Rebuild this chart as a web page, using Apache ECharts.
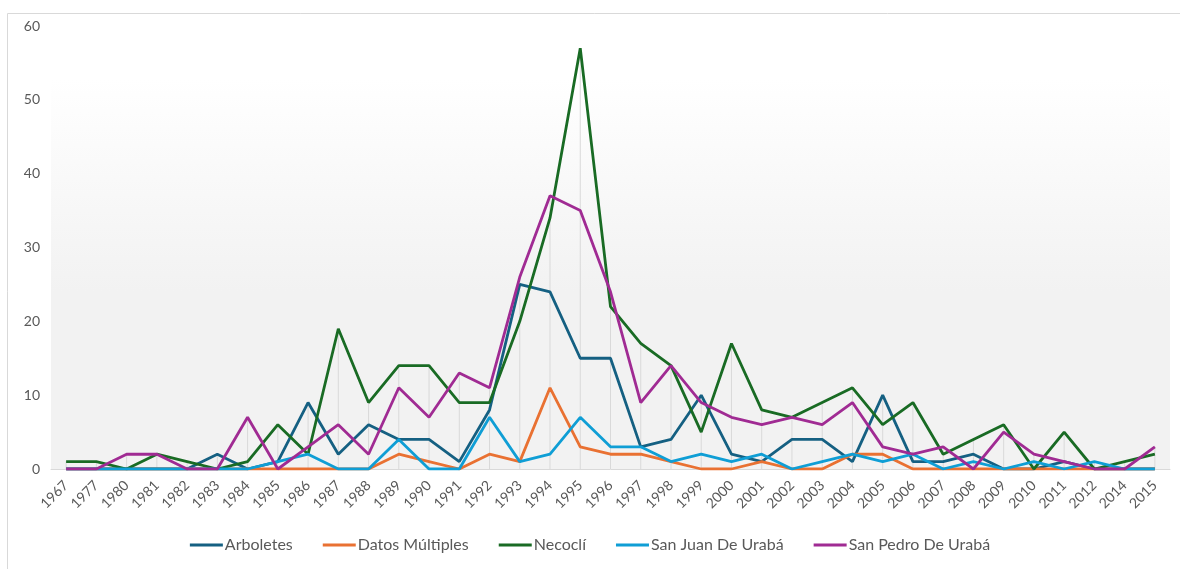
<!DOCTYPE html>
<html>
<head>
<meta charset="utf-8">
<script src="https://cdn.jsdelivr.net/npm/echarts@6/dist/echarts.min.js"></script>
<style>html,body{margin:0;padding:0;background:#fff}#c{width:1180px;height:569px}</style>
</head>
<body>
<div id="c"></div>
<script>
const categories = ['1967','1977','1980','1981','1982','1983','1984','1985','1986','1987','1988','1989','1990','1991','1992','1993','1994','1995','1996','1997','1998','1999','2000','2001','2002','2003','2004','2005','2006','2007','2008','2009','2010','2011','2012','2014','2015'];
const arboletes = [0,0,0,0,0,2,0,1,9,2,6,4,4,1,8,25,24,15,15,3,4,10,2,1,4,4,1,10,1,1,2,0,0,1,0,0,0];
const datosMultiples = [0,0,0,0,0,0,0,0,0,0,0,2,1,0,2,1,11,3,2,2,1,0,0,1,0,0,2,2,0,0,0,0,0,0,0,0,0];
const necocli = [1,1,0,2,1,0,1,6,2,19,9,14,14,9,9,20,34,57,22,17,14,5,17,8,7,9,11,6,9,2,4,6,0,5,0,1,2];
const sanJuan = [0,0,0,0,0,0,0,1,2,0,0,4,0,0,7,1,2,7,3,3,1,2,1,2,0,1,2,1,2,0,1,0,1,0,1,0,0];
const sanPedro = [0,0,2,2,0,0,7,0,3,6,2,11,7,13,11,26,37,35,24,9,14,9,7,6,7,6,9,3,2,3,0,5,2,1,0,0,3];
const seriesNames = ['Arboletes','Datos Múltiples','Necoclí','San Juan De Urabá','San Pedro De Urabá'];
const seriesData = [arboletes, datosMultiples, necocli, sanJuan, sanPedro];
const colors = ['#156082','#E97132','#196B24','#0F9ED5','#A02B93'];

const dropMax = categories.map((_, i) => Math.max(...seriesData.map(s => s[i])));

const chart = echarts.init(document.getElementById('c'));
const lineSeries = seriesNames.map((n, k) => ({
  name: n, type: 'line', data: seriesData[k], showSymbol: false, symbol: 'none',
  lineStyle: { width: 2.8, color: colors[k] }, itemStyle: { color: colors[k] },
  z: 3
}));
chart.setOption({
  animation: false,
  graphic: [{
    type: 'rect', shape: { x: 7.5, y: 13.5, width: 1180, height: 580 },
    style: { fill: 'none', stroke: '#d9d9d9', lineWidth: 1 }, z: -10
  }],
  grid: {
    left: 51, right: 10, top: 26, bottom: 100, show: true, borderWidth: 0,
    backgroundColor: new echarts.graphic.LinearGradient(0, 0, 0, 1, [
      { offset: 0, color: '#ffffff' }, { offset: 0.12, color: '#ffffff' }, { offset: 0.6, color: '#f2f2f2' }, { offset: 1, color: '#f2f2f2' }
    ])
  },
  legend: {
    data: seriesNames, bottom: 11, left: 'center', itemWidth: 33, itemHeight: 3, itemGap: 30,
    icon: 'rect',
    textStyle: { color: '#595959', fontSize: 16, padding: [0, 0, 0, -3], fontFamily: 'Lato, Liberation Sans, sans-serif' }
  },
  xAxis: {
    type: 'category', data: categories, boundaryGap: true,
    axisLine: { lineStyle: { color: '#d9d9d9', width: 1 } },
    axisTick: { show: false },
    axisLabel: { rotate: 45, color: '#595959', fontSize: 14, interval: 0, margin: 14, fontFamily: 'Lato, Liberation Sans, sans-serif' }
  },
  yAxis: {
    type: 'value', min: 0, max: 60, interval: 10,
    splitLine: { show: false },
    axisLine: { show: false }, axisTick: { show: false },
    axisLabel: { color: '#595959', fontSize: 14, margin: 11, fontFamily: 'Lato, Liberation Sans, sans-serif' }
  },
  series: [{
    name: 'drop', type: 'bar', data: dropMax, barWidth: 1, silent: true,
    itemStyle: { color: '#d9d9d9' }, z: 1
  }].concat(lineSeries)
});
</script>
</body>
</html>
